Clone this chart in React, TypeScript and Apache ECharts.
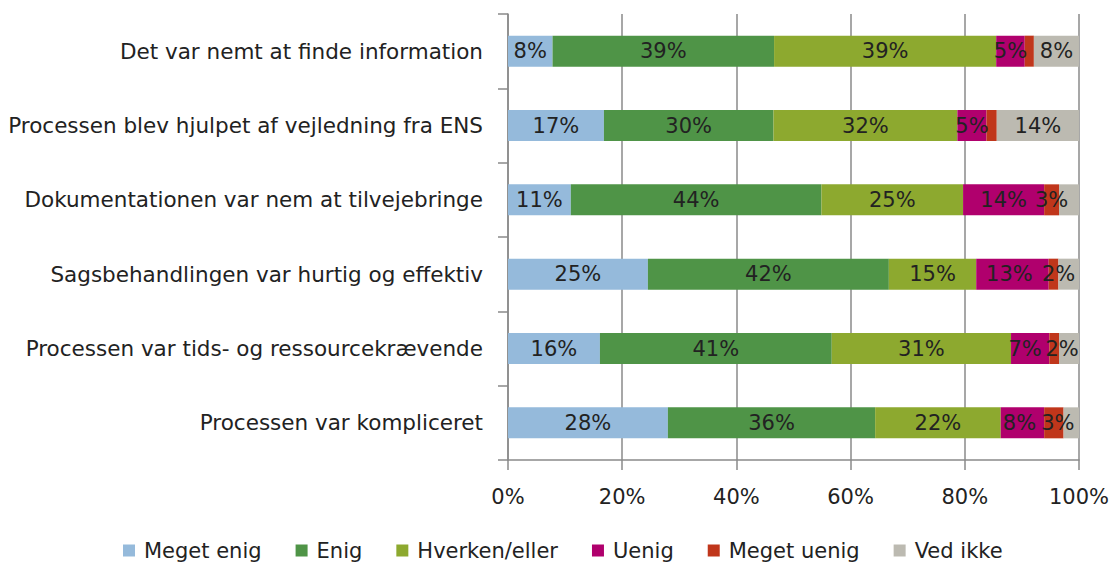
import React, { useEffect, useRef } from "react";
import * as echarts from "echarts";

const categories = [
  "Det var nemt at finde information",
  "Processen blev hjulpet af vejledning fra ENS",
  "Dokumentationen var nem at tilvejebringe",
  "Sagsbehandlingen var hurtig og effektiv",
  "Processen var tids- og ressourcekrævende",
  "Processen var kompliceret",
];

const seriesNames = ["Meget enig", "Enig", "Hverken/eller", "Uenig", "Meget uenig", "Ved ikke"];
const seriesColors = ["#95BADB", "#4F9447", "#8DA92F", "#B0006D", "#C0361B", "#BCBAB1"];

const megetEnig = [7.8, 16.8, 11.0, 24.5, 16.1, 28.0];
const enig = [38.8, 29.7, 43.9, 42.2, 40.6, 36.3];
const hverken = [38.9, 32.2, 24.8, 15.3, 31.4, 22.0];
const uenig = [5.0, 5.1, 14.2, 12.7, 6.7, 7.6];
const megetUenig = [1.6, 1.8, 2.6, 1.7, 1.7, 3.4];
const vedIkke = [7.9, 14.4, 3.5, 3.6, 3.5, 2.7];

// which labels are shown per series (per category)
const showAll = [true, true, true, true, true, true];
const showMegetUenig = [false, false, true, true, true, true];
const showVedIkke = [true, true, false, false, false, false];

const xTicks = [0, 20, 40, 60, 80, 100];

const FONT = "DejaVu Sans";
const FS = 21;

// small horizontal nudges for crowded labels: [seriesIndex, dataIndex, dx]
const nudges: [number, number, number][] = [
  [3, 4, -5],
  [4, 4, 8],
  [3, 3, -3],
  [4, 3, 5],
  [3, 5, -3],
  [4, 5, 4],
];

export default function App() {
  const ref = useRef<HTMLDivElement>(null);
  useEffect(() => {
    document.body.style.margin = "0";
    document.body.style.overflow = "hidden";
    if (!ref.current) return;
    const chart = echarts.init(ref.current, undefined, { renderer: "svg" });
    const all = [megetEnig, enig, hverken, uenig, megetUenig, vedIkke];
    const shows = [showAll, showAll, showAll, showAll, showMegetUenig, showVedIkke];
    chart.setOption({
      animation: false,
      grid: { left: 508, width: 573, top: 14, bottom: 103, containLabel: false },
      legend: {
        top: 535,
        left: 118,
        itemWidth: 12,
        itemHeight: 12,
        itemGap: 34,
        icon: "rect",
        textStyle: { fontFamily: FONT, fontSize: FS, color: "#222", padding: [0, 0, 0, 4] },
        data: seriesNames,
      },
      xAxis: {
        type: "value",
        min: 0,
        max: 100,
        interval: 20,
        axisLine: { show: true, lineStyle: { color: "#8a8a8a", width: 1.5 } },
        axisTick: { show: true, length: 10, lineStyle: { color: "#8a8a8a", width: 1.5 } },
        splitLine: { show: true, lineStyle: { color: "#8a8a8a", width: 1.5 } },
        axisLabel: {
          fontFamily: FONT,
          fontSize: FS,
          color: "#222",
          margin: 26,
          formatter: (v: number) => (xTicks.includes(v) ? v + "%" : ""),
        },
      },
      yAxis: {
        type: "category",
        inverse: true,
        data: categories,
        axisLine: { show: true, lineStyle: { color: "#8a8a8a", width: 1.5 } },
        axisTick: { show: true, length: 10, lineStyle: { color: "#8a8a8a", width: 1.5 } },
        axisLabel: { fontFamily: FONT, fontSize: 21.5, color: "#222", margin: 25 },
      },
      series: seriesNames.map((name, i) => ({
        name,
        type: "bar",
        stack: "total",
        barWidth: 31,
        itemStyle: { color: seriesColors[i] },
        label: {
          show: true,
          position: "inside",
          fontFamily: FONT,
          fontSize: FS,
          color: "#222",
          formatter: (p: any) => (shows[i][p.dataIndex] ? Math.round(p.value) + "%" : ""),
        },
        data: all[i].map((v, j) => {
          const n = nudges.find((q) => q[0] === i && q[1] === j);
          return n ? { value: v, label: { offset: [n[2], 0] } } : v;
        }),
      })),
    });
    return () => chart.dispose();
  }, []);
  return <div ref={ref} style={{ width: 1112, height: 563 }} />;
}
